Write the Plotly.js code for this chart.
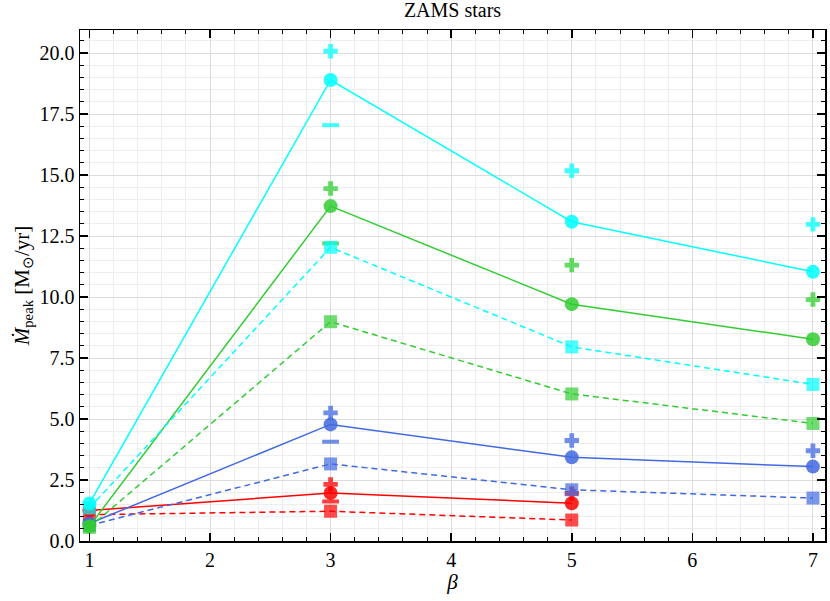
<!DOCTYPE html>
<html>
<head>
<meta charset="utf-8">
<script src="https://cdn.plot.ly/plotly-3.0.1.min.js"></script>
<style>html,body{margin:0;padding:0;background:#fff}#chart{width:830px;height:601px}</style>
</head>
<body>
<div id="chart"></div>
<script>
// beta values
const beta = [1, 3, 5, 7];
const betaRed = [1, 3, 5];
const betaPlus = [3, 5, 7];
const betaPlusRed = [3, 5];
const betaMinus = [3];

// red series
const redSolid = [1.25, 1.97, 1.55];
const redDashed = [1.08, 1.22, 0.86];
const redPlus = [2.32, 1.95];
const redMinus = [1.62];

// blue series
const blueSolid = [0.72, 4.78, 3.43, 3.05];
const blueDashed = [0.64, 3.16, 2.1, 1.76];
const bluePlus = [5.25, 4.12, 3.7];
const blueMinus = [4.07];

// green series
const greenSolid = [0.6, 13.73, 9.71, 8.27];
const greenDashed = [0.56, 8.99, 6.03, 4.82];
const greenPlus = [14.45, 11.31, 9.9];
const greenMinus = [12.2];

// cyan series
const cyanSolid = [1.54, 18.9, 13.09, 11.04];
const cyanDashed = [1.35, 12.04, 7.96, 6.42];
const cyanPlus = [20.08, 15.18, 12.98];
const cyanMinus = [17.05];

const groups = [
  {color: '#FF0000', xs: betaRed, solid: redSolid, dashed: redDashed, xp: betaPlusRed, plus: redPlus, minus: redMinus},
  {color: '#4169E1', xs: beta, solid: blueSolid, dashed: blueDashed, xp: betaPlus, plus: bluePlus, minus: blueMinus},
  {color: '#32CD32', xs: beta, solid: greenSolid, dashed: greenDashed, xp: betaPlus, plus: greenPlus, minus: greenMinus},
  {color: '#00FFFF', xs: beta, solid: cyanSolid, dashed: cyanDashed, xp: betaPlus, plus: cyanPlus, minus: cyanMinus}
];

const traces = [];
groups.forEach(g => {
  traces.push({x: g.xs, y: g.dashed, mode: 'lines+markers', type: 'scatter',
    line: {color: g.color, width: 1.5, dash: '6px,4px'},
    marker: {symbol: 'square', size: 13, color: g.color, opacity: 0.7}, showlegend: false, hoverinfo: 'skip'});
  traces.push({x: g.xs, y: g.solid, mode: 'lines+markers', type: 'scatter',
    line: {color: g.color, width: 1.5},
    marker: {symbol: 'circle', size: 14, color: g.color, opacity: 0.85}, showlegend: false, hoverinfo: 'skip'});
  traces.push({x: g.xp, y: g.plus, mode: 'markers', type: 'scatter',
    marker: {symbol: 'cross', size: 12, color: g.color, opacity: 0.75, line: {width: 0}}, showlegend: false, hoverinfo: 'skip'});
  traces.push({x: betaMinus, y: g.minus, mode: 'markers', type: 'scatter',
    marker: {symbol: 'line-ew', size: 12, color: g.color, opacity: 0.75, line: {width: 4, color: g.color}}, showlegend: false, hoverinfo: 'skip'});
});

const axisCommon = {
  showline: true, linecolor: '#000', linewidth: 1.5, mirror: 'allticks',
  ticks: 'inside', ticklen: 8, tickwidth: 1.5, tickcolor: '#000',
  showgrid: true, gridcolor: '#dcdcdc', gridwidth: 1, zeroline: false,
  tickfont: {family: 'Liberation Serif, serif', size: 20, color: '#000'}
};

const layout = {
  width: 830, height: 601,
  margin: {l: 80, r: 5, t: 30, b: 60},
  paper_bgcolor: '#fff', plot_bgcolor: '#fff',
  title: {text: 'ZAMS stars', xref: 'paper', x: 0.5, xanchor: 'center', yref: 'container', y: 0.995, yanchor: 'top',
    font: {family: 'Liberation Serif, serif', size: 20, color: '#000'}},
  xaxis: Object.assign({}, axisCommon, {
    range: [0.922, 7.1], dtick: 1, tick0: 1,
    minor: {dtick: 0.2, ticks: 'inside', ticklen: 4, tickwidth: 1, tickcolor: '#000', showgrid: true, gridcolor: '#eeeeee', gridwidth: 1},
    title: {text: '<i>β</i>', standoff: 4, font: {family: 'Liberation Serif, serif', size: 21, color: '#000'}}
  }),
  yaxis: Object.assign({}, axisCommon, {
    range: [0, 20.95], dtick: 2.5, tick0: 0, tickformat: '.1f',
    minor: {dtick: 0.5, ticks: 'inside', ticklen: 4, tickwidth: 1, tickcolor: '#000', showgrid: true, gridcolor: '#eeeeee', gridwidth: 1},
    title: {text: '<i>Ṁ</i><sub>peak</sub> [M<sub>⊙</sub>/yr]', standoff: 4, font: {family: 'Liberation Serif, serif', size: 21, color: '#000'}}
  })
};

Plotly.newPlot('chart', traces, layout, {staticPlot: true, displayModeBar: false});
</script>
</body>
</html>
